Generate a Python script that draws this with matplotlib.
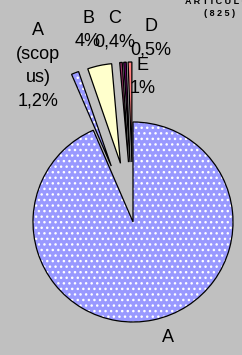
import matplotlib
matplotlib.use("Agg")
import matplotlib.pyplot as plt

# slice data (clockwise from 12 o'clock), shares
names = ["A", "A (scopus)", "B", "C", "D", "E"]
shares = [93.5, 1.2, 3.9, 0.4, 0.4, 0.6]
colors = ["#9999FF", "#9999FF", "#FFFFCC", "#993366", "#660066", "#FF8080"]
hatches = ["...", "...", None, None, None, None]
explode = [0, 60, 60, 60, 60, 60]   # pie offsets are in data units (px here)

plt.rcParams["font.family"] = ["Liberation Sans", "DejaVu Sans"]
BG = "#C0C0C0"

fig = plt.figure(figsize=(2.42, 3.55), dpi=100)
fig.patch.set_facecolor(BG)
ax = fig.add_axes([0, 0, 1, 1])
ax.set_facecolor(BG)

center = (133, 133)
radius = 100

# pass 1: fills with white dot pattern
wedges, _ = ax.pie(shares, colors=colors, explode=explode, startangle=90,
                   counterclock=False, center=center, radius=radius,
                   frame=True, wedgeprops=dict(edgecolor="white", linewidth=0))
for w, h in zip(wedges, hatches):
    if h:
        w.set_hatch(h)

# pass 2: black outlines
ax.pie(shares, colors=["none"] * len(shares), explode=explode, startangle=90,
       counterclock=False, center=center, radius=radius, frame=True,
       wedgeprops=dict(edgecolor="black", linewidth=0.9, fill=False))
ax.set_xlim(0, 242)
ax.set_ylim(0, 355)
ax.set_aspect("equal")
ax.axis("off")

fs = 13
ls = 1.5
ax.text(38, 355 - 66, "A\n(scop\nus)\n1,2%", ha="center", va="center",
        fontsize=fs, linespacing=ls)
ax.text(88, 355 - 30, "B\n4%", ha="center", va="center", fontsize=fs, linespacing=ls)
ax.text(115, 355 - 30, "C\n0,4%", ha="center", va="center", fontsize=fs, linespacing=ls)
ax.text(151, 355 - 38, "D\n0,5%", ha="center", va="center", fontsize=fs, linespacing=ls)
ax.text(143, 355 - 77, "E\n1%", ha="center", va="center", fontsize=fs, linespacing=ls)
ax.text(168, 355 - 338, "A", ha="center", va="center", fontsize=fs)

ax.text(221, 355 - 2, "A R T I C U L O S", ha="center", va="center",
        fontsize=6.5, fontweight="bold")
ax.text(220, 355 - 14, "( 8 2 5 )", ha="center", va="center",
        fontsize=6.5, fontweight="bold")

fig.savefig("out.png", dpi=100, facecolor=BG)
